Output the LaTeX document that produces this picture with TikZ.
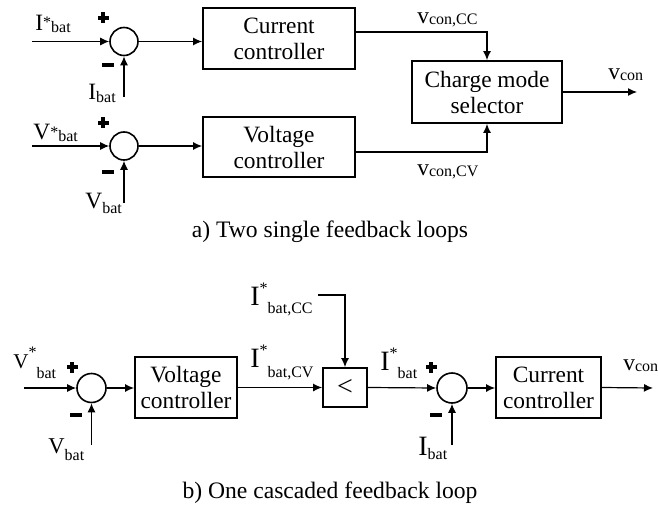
\documentclass[tikz,border=0pt]{standalone}
\usepackage{fontspec}
\setmainfont{Liberation Serif}
\usetikzlibrary{arrows.meta,calc}
\newcommand\plusmark[1]{\fill (#1) ++(-5.5,-1.8) rectangle ++(11,3.6); \fill (#1) ++(-1.8,-5.5) rectangle ++(3.6,11);}
\newcommand\minusmark[1]{\fill (#1) ++(-6,-2.2) rectangle ++(12,4.4);}
\newcommand\sm[1]{{\fontsize{8}{8}\selectfont #1}}
\begin{document}
\begin{tikzpicture}[x=0.5pt,y=-0.5pt,
  box/.style={draw,line width=0.9pt,inner sep=0pt,align=center,font=\fontsize{11.7}{13}\selectfont},
  sumc/.style={draw,circle,line width=0.8pt,minimum size=14pt,inner sep=0pt},
  conn/.style={line width=0.6pt,-{Latex[length=4.5pt,width=4pt]}},
  lbl/.style={inner sep=0pt,font=\fontsize{11.7}{13}\selectfont},
  big/.style={inner sep=0pt,font=\fontsize{14}{14}\selectfont},
  captext/.style={inner sep=0pt,font=\fontsize{11.8}{13}\selectfont}
]
\useasboundingbox (0,0) rectangle (658,508);

% ---------- a) ----------
\node[sumc] (s1) at (124,41.5) {};
\coordinate (i1) at (32,41.5);
\node[box,minimum width=76pt,minimum height=30.5pt] (cc) at (279,38.5) {Current\\controller};
\draw[conn] (i1) -- (s1);
\draw[conn] (s1) -- (s1 -| cc.west);
\coordinate (fb1) at (124,97);
\draw[conn] (fb1) -- (s1);

\node[box,minimum width=75pt,minimum height=31pt] (sel) at (487,92) {Charge mode\\selector};
\coordinate (ccY) at (0,32);
\draw[conn] (cc.east |- ccY) -| (sel.north);
\coordinate (o1) at (637,92);
\draw[conn] (sel.east) -- (o1);

\node[sumc] (s2) at (124,146) {};
\coordinate (i2) at (32,146);
\node[box,minimum width=76pt,minimum height=30pt] (vc) at (279,147) {Voltage\\controller};
\draw[conn] (i2) -- (s2);
\draw[conn] (s2) -- (s2 -| vc.west);
\coordinate (fb2) at (124,203);
\draw[conn] (fb2) -- (s2);
\coordinate (vcY) at (0,152);
\draw[conn] (vc.east |- vcY) -| (sel.south);

\plusmark{103,18}
\minusmark{108,65}
\plusmark{103,123}
\minusmark{108,172}

\node[lbl,anchor=base west] (lIs1) at (35,31) {I\raisebox{1.5pt}{\sm{*}}\raisebox{-1pt}{\sm{bat}}};
\node[lbl,anchor=base west] (lI1) at (88,100) {I\raisebox{-1.5pt}{\sm{bat}}};
\node[lbl,anchor=base west] (lVs1) at (33,140) {V\raisebox{1.5pt}{\sm{*}}\raisebox{-1pt}{\sm{bat}}};
\node[lbl,anchor=base west] (lV1) at (85,208) {V\raisebox{-2.5pt}{\sm{bat}}};
\node[lbl,anchor=base west] (lvcc) at (417,24) {v\raisebox{-0.5pt}{\sm{con,CC}}};
\node[lbl,anchor=base west] (lvcv) at (417,176) {v\raisebox{-0.5pt}{\sm{con,CV}}};
\node[lbl,anchor=base west] (lv1) at (608,80) {v\raisebox{-0.5pt}{\sm{con}}};

\node[captext] (capa) at (330,232) {a) Two single feedback loops};

% ---------- b) ----------
\node[sumc,minimum size=14.5pt] (s3) at (91.5,388) {};
\coordinate (i3) at (24,388);
\node[box,minimum width=51pt,minimum height=30.5pt] (vc2) at (186,387.5) {Voltage\\controller};
\node[box,minimum width=22pt,minimum height=19.5pt,font=\fontsize{14}{14}\selectfont] (mn) at (345,387.5) {<};
\node[sumc,minimum size=15pt] (s4) at (452,388) {};
\node[box,minimum width=52.5pt,minimum height=30.5pt] (cc2) at (548.5,387.5) {Current\\controller};
\coordinate (o2) at (653,388);
\coordinate (fb3) at (91.5,445);
\coordinate (fb4) at (452,445);
\coordinate (ccin) at (318,295);

\draw[conn] (i3) -- (s3);
\draw[conn] (s3) -- (s3 -| vc2.west);
\draw[conn] (vc2.east) -- (mn.west);
\draw[conn] (mn.east) -- (s4.west);
\draw[conn] (s4.east) -- (s4.east -| cc2.west);
\draw[conn] (cc2.east) -- (o2);
\draw[conn] (fb3) -- (s3);
\draw[conn] (fb4) -- (s4);
\draw[conn] (ccin) -| (mn.north);

\plusmark{72,367}
\minusmark{76,415}
\plusmark{431,367}
\minusmark{436,415}

\node[lbl,anchor=base west,font=\fontsize{10.5}{12}\selectfont] (lVs3) at (13,368) {V\raisebox{5.5pt}{\sm{*}}\raisebox{-5pt}{\sm{bat}}};
\node[lbl,anchor=base west,font=\fontsize{11.3}{12}\selectfont] (lV3) at (48,453) {V\raisebox{-3.5pt}{\sm{bat}}};
\node[big,anchor=base west] (lIcc) at (250,305) {I\raisebox{6pt}{\sm{*}}\raisebox{-4pt}{\sm{bat,CC}}};
\node[big,anchor=base west] (lIcv) at (250,367) {I\raisebox{6pt}{\sm{*}}\raisebox{-5pt}{\sm{bat,CV}}};
\node[big,anchor=base west] (lIs4) at (380,370) {I\raisebox{6pt}{\sm{*}}\raisebox{-4pt}{\sm{bat}}};
\node[big,anchor=base west] (lI4) at (418,455) {I\raisebox{-2pt}{\sm{bat}}};
\node[lbl,anchor=base west] (lv2) at (623,370) {v\raisebox{-0.5pt}{\sm{con}}};

\node[captext] (capb) at (330,493) {b) One cascaded feedback loop};
\end{tikzpicture}
\end{document}
